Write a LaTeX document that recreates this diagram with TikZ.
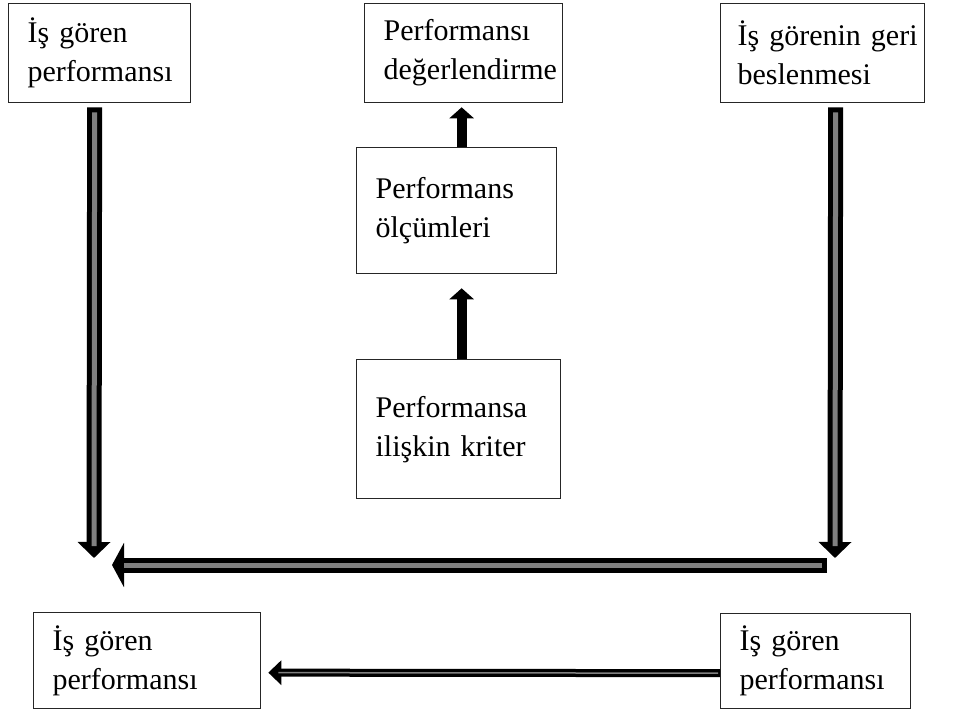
\documentclass[tikz,border=0pt]{standalone}
\usepackage{fontspec}
\setmainfont{Liberation Serif}
\usetikzlibrary{arrows.meta}
\begin{document}
\begin{tikzpicture}[x=1pt, y=-1pt, line join=miter,
	kutu/.style={draw=black!85, line width=1.3pt, anchor=north west, inner xsep=19pt, inner ysep=0pt,
		align=left, font=\fontsize{30}{39}\selectfont},
	blok/.style={line width=10pt, -{Triangle[length=11pt,width=24pt]}},
	gri/.style={line width=15pt, -{Triangle[length=16pt,width=32pt]},
		postaction={draw=black!50, line width=5pt, -, shorten <=5pt, shorten >=12pt}},
	ince/.style={line width=8pt, -{Triangle[length=13pt,width=24pt]},
		postaction={draw=black!50, line width=1.5pt, -, shorten <=2pt, shorten >=10pt}}]
	\useasboundingbox (0,0) rectangle (970,713);
	% kutular
	\node[kutu, minimum width=182pt, minimum height=99pt, text width=144pt] (perfSol) at (8,3) {İş~gören\\performansı};
	\node[kutu, minimum width=198pt, minimum height=99pt, text width=160pt] (degerlendirme) at (364,3) {Performansı\\değerlendirme};
	\node[kutu, minimum width=204pt, minimum height=99pt, text width=170pt, inner xsep=17pt] (geriBesleme) at (720,3) {İş~görenin~geri\\beslenmesi};
	\node[kutu, minimum width=200pt, minimum height=126pt, text width=162pt] (olcumler) at (356,147) {Performans\\ölçümleri};
	\node[kutu, minimum width=204pt, minimum height=139pt, text width=166pt] (kriter) at (356,359) {Performansa\\ilişkin~kriter};
	\node[kutu, minimum width=227pt, minimum height=96pt, text width=189pt] (sonucSol) at (33,612) {İş~gören\\performansı};
	\node[kutu, minimum width=190pt, minimum height=95pt, text width=152pt] (sonucSag) at (720,613) {İş~gören\\performansı};
	% ok uclari
	\coordinate (solUc) at (94,558);
	\coordinate (sagUc) at (835,558);
	\coordinate (yatayBas) at (827,565);
	\coordinate (yatayUc) at (112,565);
	% oklar
	\draw[blok] ([xshift=5pt]olcumler.north) -- ([xshift=-2pt,yshift=-4pt]degerlendirme.south);
	\draw[blok] ([xshift=3pt]kriter.north) -- ([xshift=5pt,yshift=-14pt]olcumler.south);
	\draw[gri] ([xshift=-5pt,yshift=-4pt]perfSol.south) -- (solUc);
	\draw[gri] ([xshift=13pt,yshift=-4pt]geriBesleme.south) -- (sagUc);
	\draw[gri, -{Triangle[length=12pt,width=44pt]}] (yatayBas) -- (yatayUc);
	\draw[ince] ([yshift=-12pt]sonucSag.west) -- ([xshift=7pt,yshift=-12pt]sonucSol.east);
\end{tikzpicture}
\end{document}
